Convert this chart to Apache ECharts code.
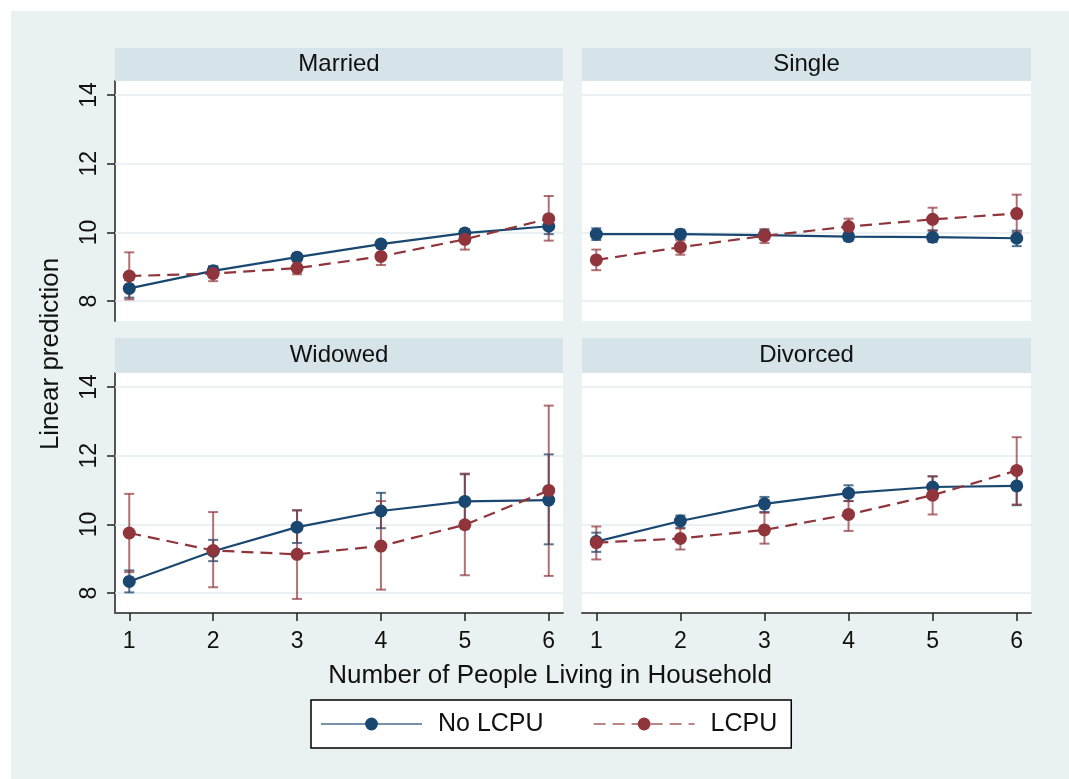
<!DOCTYPE html>
<html><head><meta charset="utf-8">
<script src="https://cdn.jsdelivr.net/npm/echarts@6/dist/echarts.min.js"></script>
<style>html,body{margin:0;padding:0;background:#fff}#c{width:1069px;height:779px}</style>
</head><body><div id="c"></div>
<script>
// ---- data ----
const household = [1, 2, 3, 4, 5, 6];
const yTicks = [8, 10, 12, 14];
const panels = ['Married', 'Single', 'Widowed', 'Divorced'];
const seriesNames = ['No LCPU', 'LCPU'];
const xTitle = 'Number of People Living in Household';
const yTitle = 'Linear prediction';

// rows: Married, Single, Widowed, Divorced
const noLcpuMean = [
  [8.37, 8.88, 9.28, 9.66, 9.98, 10.18],
  [9.95, 9.95, 9.92, 9.88, 9.86, 9.83],
  [8.34, 9.22, 9.92, 10.39, 10.67, 10.71],
  [9.50, 10.10, 10.60, 10.91, 11.09, 11.12]
];
const noLcpuLow = [
  [8.10, 8.76, 9.18, 9.56, 9.88, 9.95],
  [9.78, 9.82, 9.80, 9.76, 9.72, 9.60],
  [8.02, 8.93, 9.46, 9.89, 9.88, 9.42],
  [9.20, 9.90, 10.36, 10.68, 10.78, 10.56]
];
const noLcpuHigh = [
  [8.62, 9.00, 9.38, 9.76, 10.08, 10.40],
  [10.12, 10.08, 10.05, 10.00, 10.06, 10.05],
  [8.66, 9.55, 10.41, 10.92, 11.46, 12.04],
  [9.76, 10.26, 10.80, 11.14, 11.40, 11.68]
];
const lcpuMean = [
  [8.73, 8.80, 8.96, 9.30, 9.80, 10.40],
  [9.20, 9.57, 9.90, 10.17, 10.38, 10.55],
  [9.75, 9.24, 9.13, 9.37, 9.99, 10.99],
  [9.47, 9.59, 9.84, 10.29, 10.85, 11.57]
];
const lcpuLow = [
  [8.05, 8.58, 8.78, 9.05, 9.50, 9.76],
  [8.90, 9.35, 9.69, 9.93, 10.05, 10.00],
  [8.61, 8.17, 7.83, 8.10, 8.52, 8.50],
  [8.98, 9.27, 9.44, 9.81, 10.29, 10.58]
];
const lcpuHigh = [
  [9.42, 9.02, 9.15, 9.55, 10.10, 11.06],
  [9.50, 9.77, 10.10, 10.40, 10.72, 11.10],
  [10.89, 10.36, 10.41, 10.68, 11.48, 13.46],
  [9.94, 9.88, 10.34, 10.68, 11.40, 12.54]
];

// ---- style ----
const FONT = '"Liberation Sans", Arial, sans-serif';
const NAVY = '#1a476f', MAROON = '#90353b';
const NAVY_CI = 'rgba(26,71,111,0.75)', MAROON_CI = 'rgba(144,53,59,0.7)';
const BG = '#eaf1f3', STRIP = '#d6e3e9', GRIDLINE = '#e4ecef';
const gridPos = [
  {left: 115, top: 81, width: 448, height: 240},
  {left: 582, top: 81, width: 449, height: 240},
  {left: 115, top: 373, width: 448, height: 240},
  {left: 582, top: 373, width: 449, height: 240}
];
const stripPos = [
  {x: 115, y: 48, w: 448, h: 33},
  {x: 582, y: 48, w: 449, h: 33},
  {x: 115, y: 338, w: 448, h: 35},
  {x: 582, y: 338, w: 449, h: 35}
];

function ciRender(color) {
  return function (params, api) {
    const x = api.value(0), lo = api.value(1), hi = api.value(2);
    const a = api.coord([x, hi]), b = api.coord([x, lo]);
    const w = 5;
    const st = {stroke: color, lineWidth: 2};
    return {type: 'group', children: [
      {type: 'line', shape: {x1: a[0], y1: a[1], x2: b[0], y2: b[1]}, style: st},
      {type: 'line', shape: {x1: a[0] - w, y1: a[1], x2: a[0] + w, y2: a[1]}, style: st},
      {type: 'line', shape: {x1: b[0] - w, y1: b[1], x2: b[0] + w, y2: b[1]}, style: st}
    ]};
  };
}

const grid = [], xAxis = [], yAxis = [], series = [], graphic = [];
graphic.push({type: 'rect', shape: {x: 0, y: 0, width: 1069, height: 11}, style: {fill: '#fff'}, z: -10});
graphic.push({type: 'rect', shape: {x: 0, y: 0, width: 11, height: 779}, style: {fill: '#fff'}, z: -10});

panels.forEach((name, i) => {
  const isLeft = i % 2 === 0, isBottom = i >= 2;
  grid.push(Object.assign({show: true, backgroundColor: '#fff', borderWidth: 0}, gridPos[i]));
  xAxis.push({
    type: 'value', gridIndex: i, min: 0.83, max: 6.17,
    axisLine: {show: isBottom, onZero: false, lineStyle: {color: '#555', width: 2}},
    axisTick: {show: isBottom, customValues: household, length: 8, lineStyle: {color: '#222', width: 1.5}},
    axisLabel: {show: isBottom, customValues: household, margin: 17, fontSize: 23, fontFamily: FONT, color: '#111'},
    splitLine: {show: false}
  });
  yAxis.push({
    type: 'value', gridIndex: i, min: 7.42, max: 14.41,
    axisLine: {show: isLeft, onZero: false, lineStyle: {color: '#555', width: 2}},
    axisTick: {show: isLeft, customValues: yTicks, length: 8, lineStyle: {color: '#222', width: 1.5}},
    axisLabel: {show: isLeft, customValues: yTicks, rotate: 90, margin: 14, fontSize: 23, fontFamily: FONT, color: '#111'},
    splitLine: {show: false}
  });
  const ciData = (lo, hi) => household.map((x, k) => [x, lo[i][k], hi[i][k]]);
  series.push({
    type: 'custom', name: 'No LCPU CI', xAxisIndex: i, yAxisIndex: i, z: 2,
    renderItem: ciRender(NAVY_CI), encode: {x: 0, y: [1, 2]},
    data: ciData(noLcpuLow, noLcpuHigh), silent: true,
    markLine: {
      silent: true, symbol: 'none', z: 1, animation: false,
      label: {show: false},
      lineStyle: {color: GRIDLINE, width: 1.5, type: 'solid'},
      data: yTicks.map(v => ({yAxis: v}))
    }
  });
  series.push({
    type: 'custom', name: 'LCPU CI', xAxisIndex: i, yAxisIndex: i, z: 2,
    renderItem: ciRender(MAROON_CI), encode: {x: 0, y: [1, 2]},
    data: ciData(lcpuLow, lcpuHigh), silent: true
  });
  series.push({
    type: 'line', name: seriesNames[0], xAxisIndex: i, yAxisIndex: i, z: 3,
    data: household.map((x, k) => [x, noLcpuMean[i][k]]),
    symbol: 'circle', symbolSize: 13,
    itemStyle: {color: NAVY},
    lineStyle: {color: NAVY, width: 2.2}
  });
  series.push({
    type: 'line', name: seriesNames[1], xAxisIndex: i, yAxisIndex: i, z: 4,
    data: household.map((x, k) => [x, lcpuMean[i][k]]),
    symbol: 'circle', symbolSize: 13,
    itemStyle: {color: MAROON},
    lineStyle: {color: MAROON, width: 2.2, type: [12, 7]}
  });
  const s = stripPos[i];
  graphic.push({type: 'rect', shape: {x: s.x, y: s.y, width: s.w, height: s.h}, style: {fill: STRIP}, z: 1});
  graphic.push({type: 'text', x: s.x + s.w / 2, y: s.y + s.h / 2, z: 2,
    style: {text: name, fontSize: 24, fontFamily: FONT, fill: '#111', align: 'center', verticalAlign: 'middle'}});
});

graphic.push({type: 'text', x: 550, y: 676, z: 2,
  style: {text: xTitle, fontSize: 26, fontFamily: FONT, fill: '#111', align: 'center', verticalAlign: 'middle'}});
graphic.push({type: 'text', x: 51, y: 354, rotation: Math.PI / 2, z: 2,
  style: {text: yTitle, fontSize: 26, fontFamily: FONT, fill: '#111', align: 'center', verticalAlign: 'middle'}});

const chart = echarts.init(document.getElementById('c'), null, {renderer: 'canvas'});
chart.setOption({
  animation: false,
  backgroundColor: BG,
  grid, xAxis, yAxis, series, graphic,
  legend: {
    data: seriesNames, left: 311, top: 700, orient: 'horizontal',
    itemWidth: 101, itemHeight: 16, itemGap: 49,
    padding: [11, 14, 11, 9],
    backgroundColor: '#fff', borderColor: '#000', borderWidth: 1.5, borderRadius: 0,
    selectedMode: false,
    lineStyle: {opacity: 0.6, width: 2},
    textStyle: {fontSize: 25, fontFamily: FONT, color: '#111', padding: [0, 0, 0, 11], lineHeight: 26}
  }
});
</script></body></html>
